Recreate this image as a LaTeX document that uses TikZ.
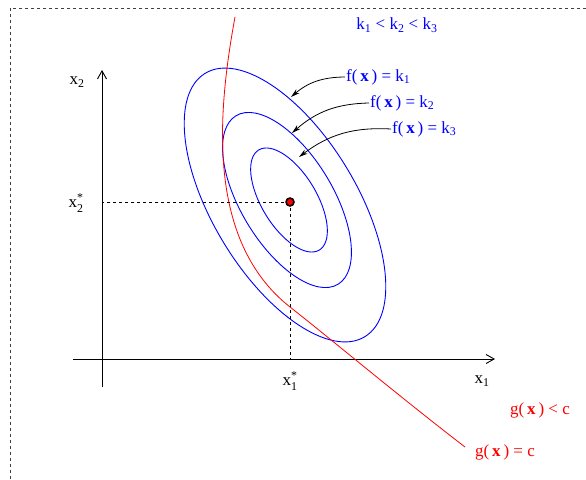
\documentclass[tikz,border=0pt]{standalone}
\usepackage{fontspec}
\setmainfont{Liberation Serif}
\usepackage{amsmath}
\usetikzlibrary{arrows.meta}
\tikzset{
  lbl/.style={font=\fontsize{17}{20}\selectfont, inner sep=1pt},
  level/.style={blue, line width=0.9pt},
  axis/.style={line width=0.9pt, -{Straight Barb[length=8pt, width=9pt]}},
  pointer/.style={line width=0.8pt, -{Stealth[length=9pt, width=5pt]}},
}
\begin{document}
\begin{tikzpicture}[x=1pt, y=-1pt]
  \useasboundingbox (0,0) rectangle (586,479);
  \draw[dashed, black!75] (10,479) |- (586,8);
  % axes
  \coordinate (O) at (102,359);
  \coordinate (xs) at (73,359);  \coordinate (xe) at (495,359);
  \coordinate (ys) at (102,387); \coordinate (ye) at (102,70);
  \draw[axis] (xs) -- (xe);
  \draw[axis] (ys) -- (ye);
  \node[lbl] (xlab) at (482,381) {x\textsubscript{1}};
  \node[lbl] (ylab) at (77,82) {x\textsubscript{2}};
  % level sets
  \draw[level, rotate around={-58.8:(285,205)}] (285,205) ellipse [x radius=154pt, y radius=72pt];
  \draw[level, rotate around={-58.8:(287,200)}] (287,200) ellipse [x radius=98.5pt, y radius=46pt];
  \draw[level, rotate around={-58.8:(289,200)}] (289,200) ellipse [x radius=58.5pt, y radius=27.5pt];
  % constraint
  \coordinate (gtop) at (235,17);
  \coordinate (gmid) at (290,307);
  \coordinate (gend) at (465,447);
  \draw[red, line width=0.8pt] (gtop) .. controls (218,110) and (205,240) .. (gmid)
    .. controls (332,340) and (400,397) .. (gend);
  % optimum
  \coordinate (P) at (290,202);
  \draw[dashed, line width=0.8pt] (P) -- (P -| O);
  \draw[dashed, line width=0.8pt] (P) -- (P |- O);
  \draw (P) node[circle, inner sep=0pt, minimum size=8pt, fill=red, draw=black, line width=1.5pt] (opt) {};
  \node[lbl] (x1s) at (290,381) {$\text{x}^{\text{*}}_{\text{1}}$};
  \node[lbl] (x2s) at (76,203) {$\text{x}^{\text{*}}_{\text{2}}$};
  % labels
  \node[lbl, blue] (order) at (397,25) {k\textsubscript{1} < k\textsubscript{2} < k\textsubscript{3}};
  \node[lbl, blue, anchor=west] (f1) at (345,77) {f(\,\textbf{x}\,) = k\textsubscript{1}};
  \node[lbl, blue, anchor=west] (f2) at (369,103) {f(\,\textbf{x}\,) = k\textsubscript{2}};
  \node[lbl, blue, anchor=west] (f3) at (391,129) {f(\,\textbf{x}\,) = k\textsubscript{3}};
  \coordinate (t1) at (291,97);
  \coordinate (t2) at (292,133);
  \coordinate (t3) at (299,157);
  \draw[pointer] (f1.west) to[bend right=20] (t1);
  \draw[pointer] (f2.west) to[bend right=20] (t2);
  \draw[pointer] (f3.west) to[bend right=20] (t3);
  \node[lbl, red] (gless) at (540,410) {g(\,\textbf{x}\,) < c};
  \node[lbl, red] (geq) at (505,452) {g(\,\textbf{x}\,) = c};
\end{tikzpicture}
\end{document}
